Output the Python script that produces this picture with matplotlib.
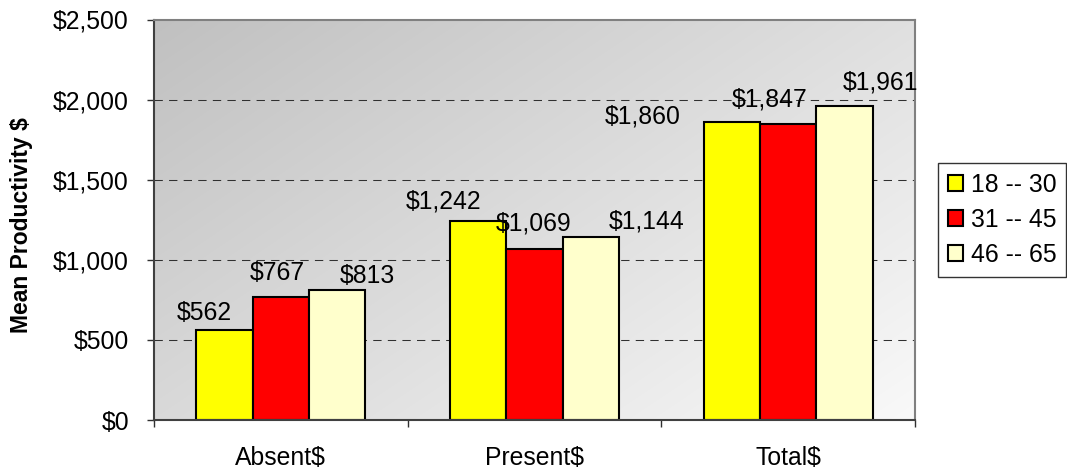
import numpy as np
import matplotlib
matplotlib.use("Agg")
import matplotlib.pyplot as plt
from matplotlib.patches import Patch

# ---- data ----
categories = ["Absent$", "Present$", "Total$"]
series_names = ["18 -- 30", "31 -- 45", "46 -- 65"]
age_18_30 = [562, 1242, 1860]
age_31_45 = [767, 1069, 1847]
age_46_65 = [813, 1144, 1961]
y_ticks = [0, 500, 1000, 1500, 2000, 2500]

# ---- style ----
colors = ["#FFFF00", "#FF0000", "#FFFFCC"]
# label offsets (pixels) of label centre relative to bar top-centre, per series per category
label_offsets_px = [
    [(-20, -18), (-35, -21), (-89, -7)],
    [(-4, -26), (-1, -27), (-19, -26)],
    [(30, -15), (56, -17), (36, -25)],
]

plt.rcParams['font.family'] = ['Liberation Sans', 'DejaVu Sans']
FS = 17.8
W, H, DPI = 1067, 476, 100
fig = plt.figure(figsize=(W / DPI, H / DPI), dpi=DPI)
fig.patch.set_facecolor("white")

x0, x1, y0, y1 = 154, 915, 19.5, 420
ax = fig.add_axes([x0 / W, 1 - y1 / H, (x1 - x0) / W, (y1 - y0) / H])

# gradient background
pw, ph = int(x1 - x0), int(y1 - y0)
xx, yy = np.meshgrid(np.linspace(0, 1, pw), np.linspace(0, 1, ph))
t = 0.56 * xx + 0.44 * yy
val = (192 + t * (249 - 192)) / 255.0
img = np.dstack([val, val, val])
ax.imshow(img, extent=[-0.5, 2.5, 0, 2500], aspect='auto', zorder=0, origin='upper')

ax.set_xlim(-0.5, 2.5)
ax.set_ylim(0, 2500)

# grid
for yv in y_ticks[1:-1]:
    ax.axhline(yv, color="#303030", lw=0.75, ls=(0, (8, 6)), zorder=1)

series = [age_18_30, age_31_45, age_46_65]
bw = 0.222
xs = np.arange(len(categories))
for i, (vals, c, name) in enumerate(zip(series, colors, series_names)):
    pos = xs + (i - 1) * bw
    ax.bar(pos, vals, width=bw, color=c, edgecolor="black", linewidth=1.5, zorder=2, label=name)
    for j, v in enumerate(vals):
        dx, dy = label_offsets_px[i][j]
        off_pt = (dx * 0.72, -(dy + 8.5) * 0.72)
        ax.annotate(f"${v:,}", xy=(pos[j], v), xytext=off_pt, textcoords="offset points",
                    ha="center", va="baseline", fontsize=FS, color="black", zorder=3,
                    annotation_clip=False)

# axes styling
ax.set_yticks(y_ticks)
ax.set_yticklabels([f"${v:,}" for v in y_ticks], fontsize=FS)
ax.set_xticks(xs)
ax.set_xticklabels(categories, fontsize=FS)
ax.set_xticks([-0.5, 0.5, 1.5, 2.5], minor=True)
ax.tick_params(axis='x', which='major', length=0, pad=19)
ax.tick_params(axis='x', which='minor', length=5, width=1, color="#303030", direction='out')
ax.tick_params(axis='y', which='major', length=5, width=1, color="#303030", direction='out', pad=13)

for s in ["left", "bottom"]:
    ax.spines[s].set_color("#404040")
    ax.spines[s].set_linewidth(1.5)
for s in ["top", "right"]:
    ax.spines[s].set_color("#808080")
    ax.spines[s].set_linewidth(1.5)

fig.text(22 / W, 1 - 225 / H, "Mean Productivity $", rotation=90, fontsize=16.5,
         fontweight="bold", ha="center", va="center")

handles = [Patch(facecolor=c, edgecolor="black", linewidth=1.5) for c in colors]
leg = fig.legend(handles, series_names, loc="upper left",
                 bbox_to_anchor=(938 / W, 1 - 163 / H), fontsize=FS,
                 frameon=True, fancybox=False, shadow=False, borderaxespad=0,
                 handlelength=0.62, handleheight=0.62, handletextpad=0.3,
                 labelspacing=0.45, borderpad=0.4)
leg.get_frame().set_edgecolor("black")
leg.get_frame().set_linewidth(1.0)
leg.get_frame().set_facecolor("white")

fig.savefig("out.png", dpi=DPI)
